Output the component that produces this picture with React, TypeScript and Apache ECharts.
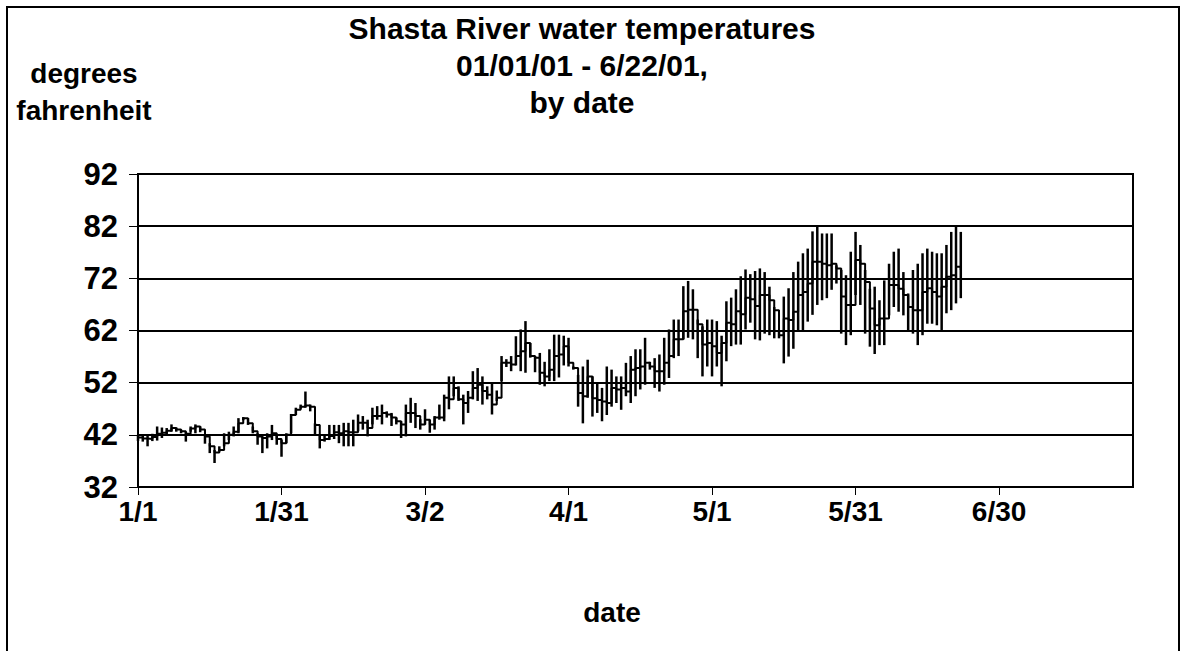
import React, { useEffect, useRef } from "react";
import * as echarts from "echarts";

// Day index (0 = Jan 1, 2001)
const meanTemp = [
  41.5, 41.3, 41.2, 41.6, 42.2, 42.4, 42.8, 43.3, 43.0, 42.7,
  42.2, 43.2, 43.6, 43.0, 41.7, 39.8, 38.6, 39.1, 40.4, 42.0,
  42.6, 44.2, 45.2, 44.2, 42.7, 41.7, 41.4, 41.7, 42.3, 41.2,
  40.4, 42.0, 45.8, 46.8, 47.4, 47.6, 47.4, 43.9, 41.0, 41.2,
  41.8, 42.5, 42.3, 42.7, 42.5, 42.5, 44.3, 44.3, 43.3, 45.6,
  45.6, 46.2, 45.9, 45.3, 44.6, 44.0, 46.2, 46.2, 45.6, 44.0,
  44.9, 44.0, 45.3, 45.3, 49.1, 48.8, 51.0, 48.8, 48.1, 49.1,
  51.0, 51.6, 50.4, 49.7, 47.8, 49.1, 55.8, 55.8, 55.5, 57.1,
  58.0, 59.6, 57.1, 56.8, 53.9, 53.2, 54.5, 57.1, 57.4, 59.0,
  55.8, 54.8, 50.0, 49.4, 53.2, 49.0, 48.7, 48.4, 48.1, 51.0,
  50.7, 51.0, 50.3, 54.5, 54.8, 55.1, 55.8, 55.1, 54.2, 54.2,
  55.8, 57.1, 60.3, 60.3, 65.7, 66.0, 66.0, 63.2, 59.3, 59.6,
  59.0, 57.7, 59.6, 63.5, 63.2, 65.7, 65.1, 68.3, 68.0, 66.7,
  68.8, 68.8, 67.8, 65.9, 61.1, 64.3, 64.0, 65.6, 68.8, 69.4,
  71.0, 75.2, 75.2, 74.8, 74.5, 74.8, 73.9, 68.5, 66.9, 66.9,
  75.5, 74.8, 71.3, 66.2, 63.0, 64.3, 64.3, 70.7, 70.7, 70.0,
  68.8, 66.5, 65.9, 65.9, 69.4, 70.1, 69.4, 68.5, 70.4, 72.3,
  72.6, 74.2, 73.6,
];

const minTemp = [
  40.8, 40.7, 39.8, 40.8, 40.9, 41.4, 41.8, 42.6, 42.6, 42.3,
  40.7, 42.6, 42.3, 42.5, 40.3, 38.5, 36.6, 38.8, 39.8, 41.0,
  41.7, 42.3, 44.8, 43.9, 42.3, 40.1, 38.5, 39.4, 41.0, 40.1,
  37.8, 40.4, 42.3, 45.8, 47.0, 47.2, 46.5, 42.0, 39.4, 40.7,
  41.0, 41.2, 40.4, 39.8, 39.8, 39.8, 42.7, 43.0, 41.7, 44.0,
  44.9, 44.0, 45.3, 43.7, 44.0, 41.4, 41.7, 44.3, 43.3, 43.0,
  44.0, 42.4, 43.0, 44.9, 44.6, 46.9, 49.4, 48.5, 44.0, 46.2,
  48.8, 48.5, 47.8, 48.8, 45.9, 48.5, 52.3, 55.0, 54.2, 55.3,
  54.2, 53.9, 56.8, 54.0, 51.6, 51.3, 52.3, 52.3, 53.0, 55.3,
  55.1, 54.5, 47.4, 44.2, 49.1, 45.5, 46.2, 44.6, 45.8, 47.4,
  48.1, 46.8, 49.4, 48.1, 49.4, 50.7, 51.6, 54.5, 51.0, 50.3,
  51.6, 52.9, 56.7, 57.1, 60.3, 60.6, 60.3, 56.7, 53.2, 55.1,
  53.2, 55.1, 51.3, 56.1, 59.0, 59.3, 59.3, 62.2, 63.5, 60.3,
  60.1, 61.4, 61.1, 60.5, 60.5, 55.7, 57.0, 58.5, 62.1, 62.1,
  63.7, 65.0, 66.9, 67.8, 68.2, 69.8, 71.0, 61.4, 59.2, 61.1,
  68.8, 66.9, 61.4, 58.9, 57.5, 59.2, 59.2, 64.9, 66.5, 65.6,
  64.9, 62.1, 61.4, 59.2, 61.1, 63.3, 63.3, 63.0, 62.1, 65.3,
  65.9, 67.2, 68.2,
];

const maxTemp = [
  42.0, 42.0, 41.8, 42.2, 43.6, 43.4, 43.3, 44.0, 43.4, 43.0,
  42.6, 43.6, 44.0, 43.6, 42.0, 40.4, 39.1, 39.8, 42.3, 42.6,
  43.6, 45.2, 45.4, 45.2, 43.6, 42.3, 41.7, 42.3, 43.9, 42.0,
  41.0, 42.3, 46.0, 47.2, 47.8, 50.3, 47.8, 44.2, 42.0, 41.8,
  43.9, 43.9, 43.9, 44.3, 44.3, 44.9, 45.9, 45.6, 44.9, 47.2,
  47.5, 47.8, 46.5, 46.2, 45.3, 44.6, 47.8, 49.1, 48.1, 45.0,
  46.9, 44.9, 45.6, 47.8, 49.7, 53.2, 53.2, 51.3, 49.7, 50.4,
  54.2, 54.8, 53.2, 51.3, 51.9, 50.5, 57.1, 56.5, 57.1, 60.9,
  62.2, 63.8, 59.6, 57.1, 57.7, 56.0, 58.4, 61.2, 61.2, 61.0,
  60.6, 55.1, 53.5, 55.1, 56.4, 53.2, 51.9, 51.0, 55.1, 54.5,
  53.2, 53.2, 55.8, 57.1, 58.4, 58.4, 60.6, 56.0, 56.7, 57.4,
  60.6, 62.2, 64.1, 64.1, 70.5, 71.5, 69.9, 64.1, 62.8, 64.1,
  64.1, 63.8, 61.0, 67.6, 68.3, 69.9, 72.4, 73.7, 72.8, 73.4,
  73.9, 73.2, 70.4, 66.5, 61.7, 68.5, 70.1, 73.2, 75.2, 76.8,
  77.7, 81.0, 82.0, 80.6, 80.6, 80.6, 74.5, 73.6, 72.6, 77.1,
  80.9, 78.4, 73.6, 70.0, 70.4, 67.8, 71.6, 74.8, 77.1, 77.7,
  73.2, 69.1, 73.6, 74.8, 76.8, 77.7, 77.1, 76.8, 76.8, 78.4,
  80.9, 81.9, 80.9,
];

const tickDays = [0, 30, 60, 90, 120, 150, 180];
const tickLabels = ["1/1", "1/31", "3/2", "4/1", "5/1", "5/31", "6/30"];
const yTicks = [32, 42, 52, 62, 72, 82, 92];
const titleLines = ["Shasta River water temperatures", "01/01/01 - 6/22/01,", "by date"];
const yAxisTitle = ["degrees", "fahrenheit"];
const xAxisTitle = "date";

const FONT = "'Liberation Sans', Arial, sans-serif";

export default function App() {
  const ref = useRef<HTMLDivElement>(null);

  useEffect(() => {
    if (!ref.current) return;
    const chart = echarts.init(ref.current, undefined, { renderer: "svg" });
    const days = meanTemp.map((_, i) => i);
    const labelFor = (v: number) => {
      const idx = tickDays.indexOf(Math.round(v));
      return idx >= 0 ? tickLabels[idx] : "";
    };
    const option: any = {
      animation: false,
      backgroundColor: "#ffffff",
      grid: {
        left: 138,
        right: 54,
        top: 174,
        bottom: 164,
        show: true,
        borderColor: "#000",
        borderWidth: 2,
        backgroundColor: "transparent",
      },
      xAxis: {
        type: "value",
        min: 0,
        max: 208,
        interval: 30,
        axisLine: { show: true, lineStyle: { color: "#000", width: 2 } },
        axisTick: {
          show: true,
          inside: false,
          length: 8,
          lineStyle: { color: "#000", width: 1 },
          customValues: tickDays,
        },
        axisLabel: {
          customValues: tickDays,
          formatter: labelFor,
          color: "#000",
          fontFamily: FONT,
          fontWeight: "bold",
          fontSize: 28,
          margin: 10,
        },
        splitLine: { show: false },
      },
      yAxis: {
        type: "value",
        min: yTicks[0],
        max: yTicks[yTicks.length - 1],
        interval: 10,
        axisLine: { show: true, lineStyle: { color: "#000", width: 2 } },
        axisTick: { show: true, length: 9, lineStyle: { color: "#000", width: 1 } },
        axisLabel: {
          color: "#000",
          fontFamily: FONT,
          fontWeight: "bold",
          fontSize: 31,
          margin: 20,
        },
        splitLine: { show: true, lineStyle: { color: "#000", width: 2 } },
      },
      graphic: [
        ...titleLines.map((t, i) => ({
          type: "text",
          x: 582,
          y: 28 + i * 37,
          style: {
            text: t,
            fill: "#000",
            font: `bold 30px ${FONT}`,
            textAlign: "center",
            textVerticalAlign: "middle",
          },
        })),
        ...yAxisTitle.map((t, i) => ({
          type: "text",
          x: 84,
          y: 73 + i * 37,
          style: {
            text: t,
            fill: "#000",
            font: `bold 28px ${FONT}`,
            textAlign: "center",
            textVerticalAlign: "middle",
          },
        })),
        {
          type: "text",
          x: 612,
          y: 612,
          style: {
            text: xAxisTitle,
            fill: "#000",
            font: `bold 28px ${FONT}`,
            textAlign: "center",
            textVerticalAlign: "middle",
          },
        },
      ],
      series: [
        {
          type: "custom",
          name: "range",
          data: days.map((d, i) => [d, minTemp[i], maxTemp[i]]),
          encode: { x: 0, y: [1, 2] },
          renderItem: (params: any, api: any) => {
            const x = api.value(0);
            const lo = api.coord([x, api.value(1)]);
            const hi = api.coord([x, api.value(2)]);
            return {
              type: "line",
              shape: { x1: lo[0], y1: lo[1], x2: hi[0], y2: hi[1] },
              style: { stroke: "#000", lineWidth: 2.5 },
            };
          },
          z: 3,
        },
        {
          type: "line",
          name: "mean",
          data: days.map((d, i) => [d, meanTemp[i]]),
          symbol: "none",
          step: "end",
          lineStyle: { color: "#000", width: 2 },
          z: 4,
        },
      ],
    };
    chart.setOption(option);
    return () => chart.dispose();
  }, []);

  return (
    <>
      <div
        ref={ref}
        style={{ position: "absolute", left: 0, top: 0, width: 1187, height: 651 }}
      />
      <div
        style={{
          position: "absolute",
          left: 6,
          top: 6,
          width: 1174,
          height: 645,
          borderTop: "2px solid #000",
          borderLeft: "2px solid #000",
          borderRight: "2px solid #000",
          boxSizing: "border-box",
          pointerEvents: "none",
        }}
      />
    </>
  );
}
